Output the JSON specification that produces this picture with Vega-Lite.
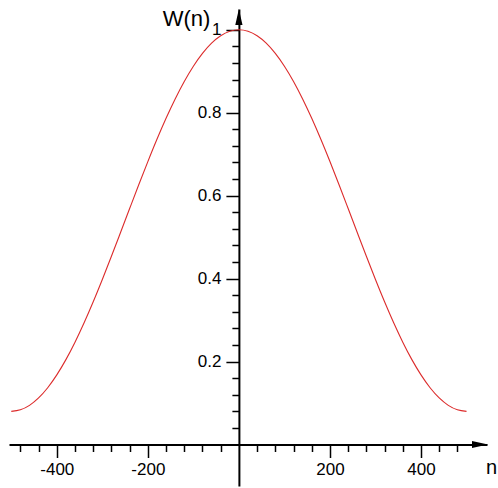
{
  "$schema": "https://vega.github.io/schema/vega-lite/v6.json",
  "width": 478,
  "height": 477,
  "padding": {"left": 9, "top": 9, "right": 11, "bottom": 2},
  "autosize": {"type": "none"},
  "config": {"view": {"stroke": null}, "font": "Liberation Sans"},
  "data": {
    "values": [
      {"n": -500, "W": 0.08}, {"n": -480, "W": 0.08363}, {"n": -460, "W": 0.09445}, {"n": -440, "W": 0.1123},
      {"n": -420, "W": 0.1369}, {"n": -400, "W": 0.16785}, {"n": -380, "W": 0.20467}, {"n": -360, "W": 0.24679},
      {"n": -340, "W": 0.29352}, {"n": -320, "W": 0.34414}, {"n": -300, "W": 0.39785}, {"n": -280, "W": 0.45381},
      {"n": -260, "W": 0.51112}, {"n": -240, "W": 0.56888}, {"n": -220, "W": 0.62619}, {"n": -200, "W": 0.68215},
      {"n": -180, "W": 0.73586}, {"n": -160, "W": 0.78648}, {"n": -140, "W": 0.83321}, {"n": -120, "W": 0.87533},
      {"n": -100, "W": 0.91215}, {"n": -80, "W": 0.9431}, {"n": -60, "W": 0.9677}, {"n": -40, "W": 0.98555},
      {"n": -20, "W": 0.99637}, {"n": 0, "W": 1.0}, {"n": 20, "W": 0.99637}, {"n": 40, "W": 0.98555},
      {"n": 60, "W": 0.9677}, {"n": 80, "W": 0.9431}, {"n": 100, "W": 0.91215}, {"n": 120, "W": 0.87533},
      {"n": 140, "W": 0.83321}, {"n": 160, "W": 0.78648}, {"n": 180, "W": 0.73586}, {"n": 200, "W": 0.68215},
      {"n": 220, "W": 0.62619}, {"n": 240, "W": 0.56888}, {"n": 260, "W": 0.51112}, {"n": 280, "W": 0.45381},
      {"n": 300, "W": 0.39785}, {"n": 320, "W": 0.34414}, {"n": 340, "W": 0.29352}, {"n": 360, "W": 0.24679},
      {"n": 380, "W": 0.20467}, {"n": 400, "W": 0.16785}, {"n": 420, "W": 0.1369}, {"n": 440, "W": 0.1123},
      {"n": 460, "W": 0.09445}, {"n": 480, "W": 0.08363}, {"n": 500, "W": 0.08}
    ]
  },
  "layer": [
    {
      "mark": {"type": "line", "opacity": 0},
      "encoding": {
        "x": {
          "field": "n", "type": "quantitative",
          "scale": {"domain": [-505, 545], "nice": false, "zero": false},
          "axis": {
            "orient": "bottom", "offset": -41.5,
            "values": [-480, -440, -360, -320, -280, -240, -160, -120, -80, -40, 40, 80, 120, 160, 240, 280, 320, 360, 440, 480],
            "tickSize": 7, "tickWidth": 1.5, "tickColor": "black",
            "labels": false, "domain": false, "grid": false, "title": null
          }
        },
        "y": {
          "field": "W", "type": "quantitative",
          "scale": {"domain": [-0.1, 1.05], "nice": false, "zero": false},
          "axis": {
            "orient": "left", "offset": -229.9,
            "values": [0.04, 0.08, 0.12, 0.16, 0.24, 0.28, 0.32, 0.36, 0.44, 0.48, 0.52, 0.56, 0.64, 0.68, 0.72, 0.76, 0.84, 0.88, 0.92, 0.96],
            "tickSize": 7, "tickWidth": 1.5, "tickColor": "black",
            "labels": false, "domain": false, "grid": false, "title": null
          }
        }
      }
    },
    {
      "mark": {"type": "line", "color": "#dc2b2b", "strokeWidth": 1.1, "interpolate": "monotone"},
      "encoding": {
        "x": {
          "field": "n", "type": "quantitative",
          "axis": {
            "orient": "bottom", "offset": -41.5,
            "values": [-400, -200, 200, 400],
            "labelExpr": "'' + datum.value",
            "tickSize": 13, "tickWidth": 1.5, "tickColor": "black",
            "domain": true, "domainColor": "black", "domainWidth": 2,
            "labelFont": "Liberation Sans", "labelFontSize": 17, "labelColor": "black", "labelPadding": 4,
            "labelFlush": false, "grid": false,
            "title": "n", "titleFont": "Liberation Sans", "titleFontSize": 20, "titleFontWeight": "normal", "titleColor": "black",
            "titleX": 482, "titleY": 22.5, "titleAlign": "center", "titleBaseline": "middle", "titleAngle": 0
          }
        },
        "y": {
          "field": "W", "type": "quantitative",
          "axis": {
            "orient": "left", "offset": -229.9,
            "values": [0.2, 0.4, 0.6, 0.8, 1],
            "labelExpr": "'' + datum.value",
            "tickSize": 13, "tickWidth": 1.5, "tickColor": "black",
            "domain": true, "domainColor": "black", "domainWidth": 2,
            "labelFont": "Liberation Sans", "labelFontSize": 17, "labelColor": "black", "labelPadding": 5,
            "labelFlush": false, "grid": false,
            "title": "W(n)", "titleFont": "Liberation Sans", "titleFontSize": 22, "titleFontWeight": "normal", "titleColor": "black",
            "titleX": -29, "titleY": 16, "titleAlign": "right", "titleBaseline": "alphabetic", "titleAngle": 0
          }
        }
      }
    },
    {
      "data": {"values": [{"n": 529.6, "W": 0}]},
      "mark": {"type": "point", "shape": "M-1,-0.45L1,0L-1,0.45Z", "size": 256, "filled": true, "color": "black", "opacity": 1, "strokeWidth": 0},
      "encoding": {
        "x": {"field": "n", "type": "quantitative", "axis": null},
        "y": {"field": "W", "type": "quantitative", "axis": null}
      }
    },
    {
      "data": {"values": [{"n": 0, "W": 1.0306}]},
      "mark": {"type": "point", "shape": "M-0.45,1L0,-1L0.45,1Z", "size": 256, "filled": true, "color": "black", "opacity": 1, "strokeWidth": 0},
      "encoding": {
        "x": {"field": "n", "type": "quantitative", "axis": null},
        "y": {"field": "W", "type": "quantitative", "axis": null}
      }
    }
  ],
  "resolve": {"axis": {"x": "independent", "y": "independent"}}
}
